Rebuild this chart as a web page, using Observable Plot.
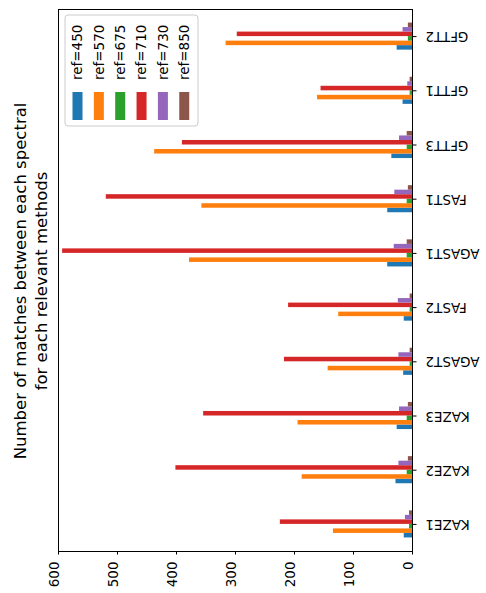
<!DOCTYPE html>
<html><head><meta charset="utf-8">
<script src="https://cdn.jsdelivr.net/npm/d3@7"></script>
<script src="https://cdn.jsdelivr.net/npm/@observablehq/plot@0.6"></script>
<style>html,body{margin:0;padding:0;background:#fff;} #chart svg{display:block;}</style>
</head><body><div id="chart"></div>
<script>
// categories, listed from the bottom of the chart to the top
const methods = ["KAZE1", "KAZE2", "KAZE3", "AGAST2", "FAST2", "AGAST1", "FAST1", "GFTT3", "GFTT1", "GFTT2"];
const refs = ["ref=450", "ref=570", "ref=675", "ref=710", "ref=730", "ref=850"];
const ref450 = [14, 28, 26, 15, 14, 42, 42, 35, 16, 26];
const ref570 = [134, 187, 194, 143, 125, 378, 357, 437, 161, 316];
const ref675 = [5, 9, 9, 4, 4, 9, 9, 9, 4, 7];
const ref710 = [224, 401, 354, 217, 210, 593, 519, 390, 155, 297];
const ref730 = [12, 23, 22, 23, 24, 31, 30, 22, 8, 16];
const ref850 = [5, 7, 7, 4, 4, 9, 7, 9, 4, 7];
const valueTicks = [0, 100, 200, 300, 400, 500, 600];
const colors = ["#1f77b4", "#ff7f0e", "#2ca02c", "#d62728", "#9467bd", "#8c564b"];
const titleLines = ["Number of matches between each spectral", "for each relevant methods"];

const series = [ref450, ref570, ref675, ref710, ref730, ref850];
const rows = [];
series.forEach((vals, k) => vals.forEach((v, i) => rows.push({method: methods[i], i, k, ref: refs[k], value: v})));

const groupWidth = 0.5, nRefs = refs.length;
const font = "DejaVu Sans, sans-serif";

const plot = Plot.plot({
  width: 486, height: 593,
  marginLeft: 58, marginRight: 74, marginTop: 9, marginBottom: 42,
  style: {fontFamily: font, fontSize: "13.5px", color: "black", background: "white"},
  x: {domain: [0, 600], reverse: true},
  y: {domain: [-0.5, methods.length - 0.5]},
  color: {domain: refs, range: colors},
  marks: [
    Plot.rect(rows, {
      x1: 0, x2: "value",
      y1: d => d.i - groupWidth / 2 + d.k * groupWidth / nRefs,
      y2: d => d.i - groupWidth / 2 + (d.k + 1) * groupWidth / nRefs,
      fill: "ref"
    }),
    Plot.axisX({ticks: valueTicks, tickSize: 3.5, tickFormat: () => "", label: null}),
    Plot.text(valueTicks, {x: d => d, text: d => String(d), frameAnchor: "bottom", dy: 10, rotate: -90, textAnchor: "end", fill: "black"}),
    Plot.axisY({anchor: "right", ticks: d3.range(methods.length), tickSize: 3.5, tickFormat: () => "", label: null}),
    Plot.text(methods, {y: (d, i) => i, text: d => d, frameAnchor: "right", dx: 13, rotate: 180, textAnchor: "end", fill: "black"}),
    Plot.frame({stroke: "black", strokeWidth: 1})
  ]
});

const svg = d3.select(plot);
const colorScale = plot.scale("color");

// legend (upper left, rotated like the rest of the figure)
const lg = svg.append("g").attr("font-family", font).attr("font-size", 13.5).attr("text-anchor", "start");
lg.append("rect").attr("x", 65).attr("y", 15).attr("width", 133).attr("height", 111).attr("rx", 3)
  .attr("fill", "white").attr("fill-opacity", 0.8).attr("stroke", "#cccccc");
refs.forEach((r, k) => {
  const cx = 77.5 + k * 21.35;
  lg.append("rect").attr("x", cx - 5).attr("y", 92).attr("width", 10).attr("height", 28).attr("fill", colorScale.apply(r));
  lg.append("text").attr("transform", `translate(${cx},80) rotate(-90)`).attr("text-anchor", "start")
    .attr("dy", "0.35em").attr("fill", "black").text(r);
});

// title on the left
titleLines.forEach((t, j) => {
  svg.append("text").attr("transform", `translate(${25.5 + j * 21},281) rotate(-90)`)
    .attr("text-anchor", "middle").attr("font-family", font).attr("font-size", 16.5).attr("fill", "black").text(t);
});

document.getElementById("chart").appendChild(plot);
</script>
</body></html>
